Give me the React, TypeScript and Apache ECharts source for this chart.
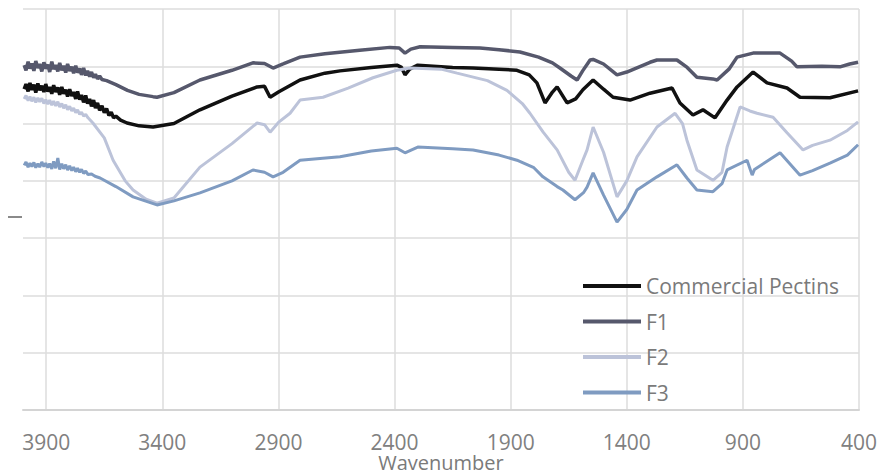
import React, { useEffect, useRef } from "react";
import * as echarts from "echarts";

const seriesNames = ["Commercial Pectins", "F1", "F2", "F3"];
const seriesColors = ["#111111", "#56586c", "#bcc3d9", "#7f9bc1"];

const commercial: [number, number][] = [
  [3995, 56.0], [3987, 56.9], [3978, 55.6], [3970, 57.1], [3962, 55.9], [3953, 56.8], [3945, 55.4],
  [3936, 57.0], [3928, 55.8], [3919, 56.6], [3910, 55.5], [3902, 56.9], [3893, 55.6], [3885, 56.4],
  [3876, 55.2], [3868, 56.7], [3859, 55.5], [3850, 56.3], [3842, 55.0], [3833, 56.4], [3825, 55.2],
  [3816, 55.9], [3808, 54.7], [3799, 56.0], [3790, 54.8], [3782, 55.5], [3773, 54.3], [3765, 55.6],
  [3756, 54.2], [3748, 55.0], [3739, 53.7], [3730, 54.9], [3722, 53.5], [3713, 54.3], [3705, 53.0],
  [3696, 54.1], [3688, 52.7], [3679, 53.6], [3670, 52.3], [3660, 53.1], [3650, 51.9], [3640, 52.6],
  [3630, 51.4], [3620, 52.0], [3610, 51.0], [3600, 51.3], [3580, 50.6],
  [3552, 50.1], [3500, 49.6], [3440, 49.4], [3350, 50.0], [3238, 52.4], [3100, 54.8], [2992, 56.4],
  [2960, 56.5], [2936, 54.6], [2900, 55.5], [2807, 57.6], [2700, 58.8], [2635, 59.2], [2500, 59.8],
  [2390, 60.2], [2370, 59.8], [2355, 58.5], [2335, 59.5], [2300, 60.2], [2150, 59.8], [2062, 59.7],
  [1950, 59.5], [1873, 59.3], [1820, 58.5], [1787, 57.1], [1752, 53.6], [1720, 55.5], [1700, 56.4],
  [1657, 53.6], [1620, 54.3], [1589, 55.9], [1545, 57.6], [1500, 56.0], [1459, 54.6], [1386, 54.1],
  [1300, 55.3], [1205, 56.2], [1171, 53.6], [1115, 51.5], [1072, 52.4], [1020, 51.0], [968, 54.1],
  [925, 56.4], [856, 59.0], [796, 57.1], [710, 56.2], [654, 54.6], [525, 54.5], [404, 55.7],
];

const f1: [number, number][] = [
  [3995, 60.2], [3987, 59.3], [3978, 60.8], [3970, 59.6], [3962, 60.5], [3953, 59.2], [3945, 60.9],
  [3936, 59.7], [3928, 60.4], [3919, 59.1], [3910, 60.7], [3902, 59.6], [3893, 60.3], [3885, 59.0],
  [3876, 60.8], [3868, 59.5], [3859, 60.2], [3850, 59.1], [3842, 60.6], [3833, 59.3], [3825, 60.1],
  [3816, 58.9], [3808, 60.4], [3799, 59.2], [3790, 59.9], [3782, 58.8], [3773, 60.1], [3765, 58.9],
  [3756, 59.6], [3748, 58.5], [3739, 59.7], [3730, 58.4], [3722, 59.2], [3713, 58.2], [3705, 59.0],
  [3696, 58.0], [3688, 58.6], [3679, 57.8], [3670, 58.3], [3660, 57.7], [3640, 57.5],
  [3600, 56.8], [3550, 55.8], [3500, 55.1], [3440, 54.7],
  [3423, 54.6], [3350, 55.4], [3238, 57.6], [3100, 59.3], [3010, 60.6], [2960, 60.5], [2923, 59.7],
  [2880, 60.4], [2807, 61.6], [2700, 62.2], [2550, 62.8], [2420, 63.3], [2380, 63.2], [2355, 62.3],
  [2330, 63.0], [2290, 63.4], [2150, 63.3], [2032, 63.2], [1950, 62.9], [1860, 62.5], [1780, 61.6],
  [1720, 60.6], [1688, 59.7], [1640, 58.3], [1614, 57.6], [1590, 59.2], [1558, 61.1], [1545, 61.2],
  [1500, 60.4], [1442, 58.5], [1400, 59.0], [1300, 60.7], [1270, 61.1], [1184, 61.1], [1140, 59.8],
  [1098, 58.1], [1030, 57.8], [1011, 57.6], [960, 59.5], [925, 61.6], [856, 62.3], [740, 62.3],
  [690, 60.9], [667, 59.9], [560, 60.0], [482, 59.9], [440, 60.4], [404, 60.7],
];

const f2: [number, number][] = [
  [3995, 54.3], [3987, 54.9], [3978, 54.0], [3970, 54.7], [3962, 53.9], [3953, 54.6], [3945, 53.7],
  [3936, 54.5], [3928, 53.8], [3919, 54.4], [3910, 53.5], [3902, 54.2], [3893, 53.4], [3885, 54.1],
  [3876, 53.2], [3868, 53.9], [3859, 53.1], [3850, 53.8], [3842, 52.9], [3833, 53.5], [3825, 52.7],
  [3816, 53.3], [3808, 52.4], [3799, 53.0], [3790, 52.2], [3782, 52.7], [3773, 51.9], [3765, 52.4],
  [3756, 51.6], [3748, 52.0], [3739, 51.3], [3730, 51.6], [3720, 51.0],
  [3699, 50.1], [3650, 47.5], [3612, 43.6],
  [3560, 40.0], [3526, 38.4], [3470, 36.8], [3423, 36.1], [3350, 37.0], [3238, 42.4], [3100, 46.5],
  [2992, 50.1], [2960, 49.8], [2936, 48.5], [2900, 50.2], [2850, 51.8], [2807, 54.1], [2708, 54.6],
  [2600, 56.2], [2493, 58.0], [2390, 59.3], [2334, 59.7], [2200, 59.5], [2131, 58.8], [2000, 57.5],
  [1916, 55.8], [1850, 53.5], [1817, 51.8], [1760, 48.5], [1700, 45.4], [1650, 41.5], [1623, 40.1],
  [1590, 43.5], [1571, 45.4], [1545, 49.4], [1500, 45.0], [1442, 37.2], [1400, 40.0], [1356, 44.2],
  [1270, 49.4], [1192, 51.8], [1160, 50.0], [1141, 47.1], [1098, 41.9], [1029, 40.1], [990, 41.5],
  [968, 45.9], [912, 52.9], [870, 52.2], [839, 51.8], [770, 51.1], [710, 48.4], [641, 45.4],
  [600, 46.2], [525, 47.1], [450, 48.8], [404, 50.3],
];

const f3: [number, number][] = [
  [3995, 42.7], [3987, 43.3], [3978, 42.4], [3970, 43.1], [3962, 42.5], [3953, 43.2], [3945, 42.3],
  [3936, 43.0], [3928, 42.4], [3919, 43.3], [3910, 42.5], [3902, 43.1], [3893, 42.3], [3885, 43.0],
  [3876, 42.1], [3868, 43.4], [3859, 42.2], [3850, 44.0], [3842, 42.0], [3833, 43.0], [3825, 42.1],
  [3816, 42.8], [3808, 41.9], [3799, 42.6], [3790, 41.8], [3782, 42.4], [3773, 41.6], [3765, 42.2],
  [3756, 41.5], [3748, 42.0], [3739, 41.3], [3730, 41.7], [3720, 41.1], [3705, 41.2], [3690, 40.8],
  [3668, 40.5], [3600, 39.0],
  [3526, 37.2], [3423, 35.8], [3350, 36.5], [3238, 37.9], [3100, 40.0], [3010, 41.9], [2960, 41.5],
  [2923, 40.7], [2880, 41.5], [2807, 43.6], [2635, 44.2], [2500, 45.2], [2390, 45.7], [2355, 44.9],
  [2300, 45.9], [2150, 45.6], [2062, 45.4], [1950, 44.5], [1873, 43.6], [1800, 42.3], [1761, 40.7],
  [1700, 39.0], [1675, 38.4], [1623, 36.7], [1585, 38.0], [1571, 38.9], [1545, 41.4], [1500, 37.5],
  [1442, 32.8], [1400, 35.0], [1356, 38.4], [1270, 40.7], [1184, 42.8], [1141, 40.5], [1098, 38.4],
  [1029, 38.1], [990, 39.5], [968, 41.9], [882, 43.6], [860, 41.0], [850, 42.0], [740, 44.9],
  [654, 41.0], [600, 41.8], [525, 43.1], [450, 44.5], [404, 46.3],
];

const seriesData = [commercial, f1, f2, f3];
const lineWidths = [3.5, 3.5, 3, 3];

const FONT = "'Open Sans', sans-serif";

export default function App() {
  const ref = useRef<HTMLDivElement>(null);
  useEffect(() => {
    if (!ref.current) return;
    const chart = echarts.init(ref.current, undefined, { renderer: "svg" });
    chart.setOption({
      animation: false,
      backgroundColor: "#ffffff",
      grid: { left: 23, right: 21, top: 9, bottom: 62, containLabel: false, outerBoundsMode: "none" },
      legend: {
        orient: "vertical",
        left: 578,
        top: 269,
        itemWidth: 58,
        itemHeight: 4,
        itemGap: 11.5,
        icon: "rect",
        data: seriesNames,
        textStyle: { color: "#7a7a7a", fontSize: 21, fontFamily: FONT, lineHeight: 24 },
      },
      xAxis: {
        type: "value",
        inverse: true,
        min: 400,
        max: 4000,
        interval: 500,
        name: "Wavenumber",
        nameLocation: "middle",
        nameGap: 52,
        nameMoveOverlap: false,
        nameTextStyle: {
          color: "#7a7a7a",
          fontSize: 20,
          fontFamily: FONT,
          lineHeight: 16,
          verticalAlign: "middle",
        },
        axisLine: { show: true, lineStyle: { color: "#d4d4d4", width: 2 } },
        axisTick: { show: false },
        axisLabel: {
          color: "#808080",
          fontSize: 21,
          lineHeight: 18,
          fontFamily: FONT,
          margin: 23,
          showMaxLabel: false,
          showMinLabel: true,
          formatter: (v: number) => String(v),
        },
        splitLine: { show: true, showMaxLine: false, lineStyle: { color: "#dcdcdc", width: 1.5 } },
      },
      yAxis: {
        type: "value",
        min: 0,
        max: 70,
        interval: 10,
        axisLine: { show: false },
        axisTick: { show: false },
        axisLabel: { show: false },
        splitLine: { show: true, lineStyle: { color: "#dcdcdc", width: 1.5 } },
      },
      graphic: [
        {
          type: "line",
          shape: { x1: 8, y1: 217, x2: 22, y2: 217 },
          style: { stroke: "#8a8a8a", lineWidth: 2 },
        },
      ],
      series: seriesNames.map((name, i) => ({
        name,
        type: "line",
        data: seriesData[i],
        showSymbol: false,
        symbol: "none",
        lineStyle: { color: seriesColors[i], width: lineWidths[i] },
        itemStyle: { color: seriesColors[i] },
      })),
    });
    return () => chart.dispose();
  }, []);
  return <div ref={ref} style={{ width: 880, height: 472, position: "absolute", left: 0, top: 0 }} />;
}
